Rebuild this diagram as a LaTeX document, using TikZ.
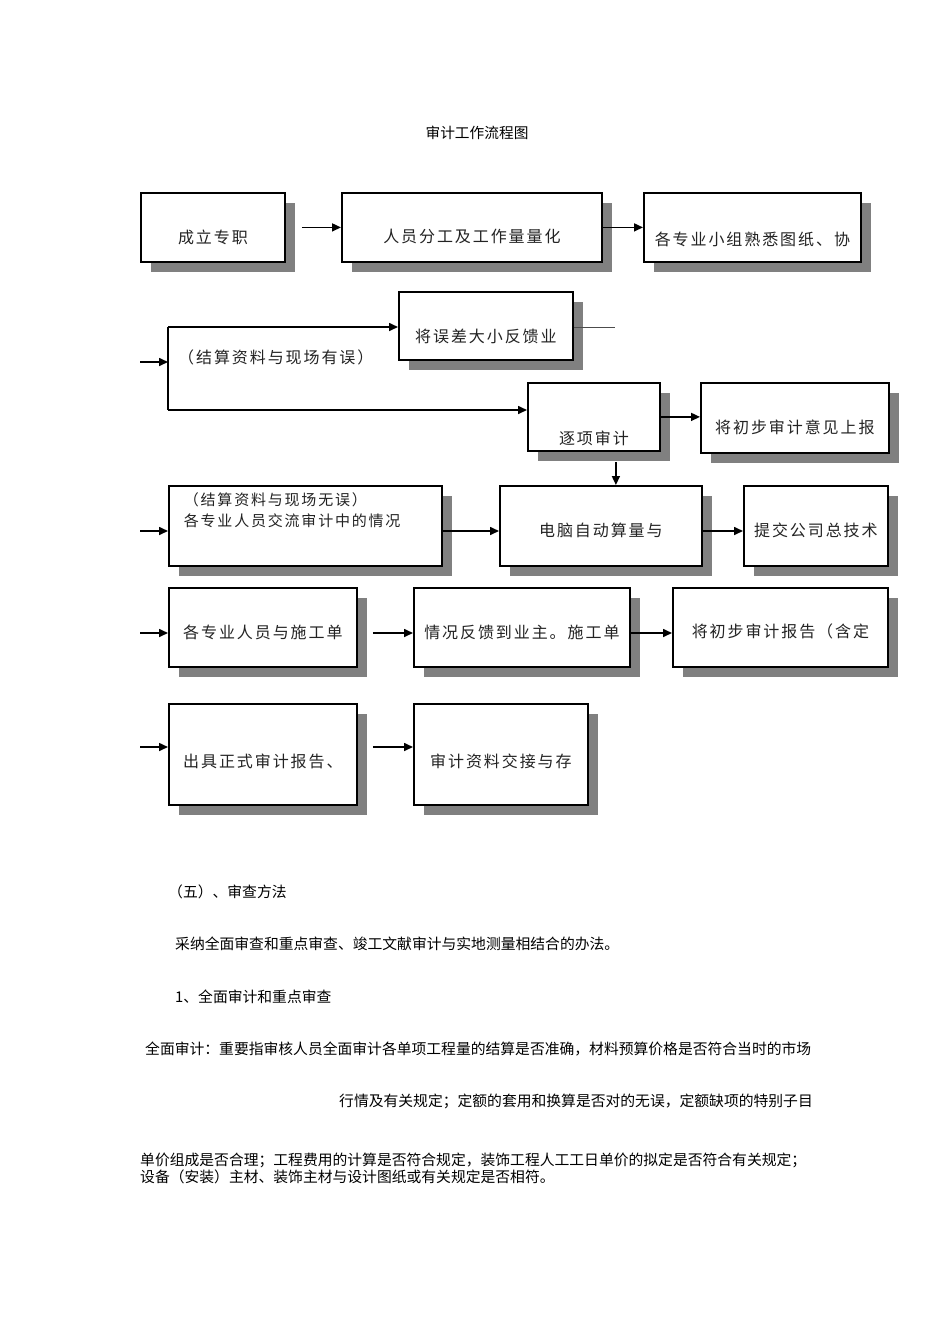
\documentclass[tikz,border=0pt]{standalone}
\usepackage{fontspec}
\setmainfont{Noto Sans CJK SC}
\newfontfamily\boxfont[LetterSpace=12]{Noto Sans CJK SC}
\usetikzlibrary{arrows.meta,positioning,calc,shadows}
\definecolor{shadowgray}{RGB}{128,128,128}
\definecolor{inkgray}{RGB}{35,35,35}

\begin{document}
\begin{tikzpicture}[x=1pt,y=-1pt,
  flowbox/.style={draw=black,line width=1.8pt,fill=white,anchor=north west,inner sep=0pt,text=inkgray,font=\boxfont\fontsize{16}{21}\selectfont,general shadow={fill=shadowgray,shadow xshift=10pt,shadow yshift=-10pt},text depth=0pt},
  flowarrow/.style={-{Triangle[length=9pt,width=8pt]},line width=1.6pt},
  bodytext/.style={inner sep=0pt,font=\fontsize{14.8}{17}\selectfont}]
\fill[white] (0,0) rectangle (950,1344);
\useasboundingbox (0,0) rectangle (950,1344);

\node[bodytext,font=\fontsize{14.7}{17}\selectfont] (title) at (477,133) {审计工作流程图};

\node[flowbox,minimum width=144pt,minimum height=69pt,text height=32pt] (b1) at (140,192) {成立专职};
\node[flowbox,minimum width=260pt,minimum height=69pt,text height=31pt] (b2) at (341,192) {人员分工及工作量量化};
\node[flowbox,minimum width=217pt,minimum height=69pt,text height=36pt] (b3) at (643,192) {各专业小组熟悉图纸、协};
\node[flowbox,minimum width=174pt,minimum height=68pt,text height=34pt] (b4) at (398,291) {将误差大小反馈业};
\node[flowbox,minimum width=132pt,minimum height=68pt,text height=56pt] (b5) at (527,382) {逐项审计};
\node[flowbox,minimum width=188pt,minimum height=70pt,text height=32pt] (b6) at (700,382) {将初步审计意见上报};
\node[flowbox,minimum width=273pt,minimum height=80pt,text width=243pt,align=left,text height=10pt,text depth=50pt,font=\boxfont\fontsize{15}{21}\selectfont] (b7) at (168,485) {（结算资料与现场无误）\\各专业人员交流审计中的情况};
\node[flowbox,minimum width=202pt,minimum height=80pt,text height=22pt] (b8) at (499,485) {电脑自动算量与};
\node[flowbox,minimum width=144pt,minimum height=80pt,text height=22pt] (b9) at (743,485) {提交公司总技术};
\node[flowbox,minimum width=188pt,minimum height=79pt,text height=22pt] (b10) at (168,587) {各专业人员与施工单};
\node[flowbox,minimum width=216pt,minimum height=79pt,text height=22pt] (b11) at (413,587) {情况反馈到业主。施工单};
\node[flowbox,minimum width=215pt,minimum height=79pt,text height=20pt] (b12) at (672,587) {将初步审计报告（含定};
\node[flowbox,minimum width=188pt,minimum height=101pt,text height=26pt] (b13) at (168,703) {出具正式审计报告、};
\node[flowbox,minimum width=174pt,minimum height=101pt,text height=26pt] (b14) at (413,703) {审计资料交接与存};

\node[inner sep=0pt,anchor=west,text=inkgray,font=\boxfont\fontsize{16}{21}\selectfont] (errlabel) at (178,357) {（结算资料与现场有误）};

\coordinate (in2) at (140,362);
\coordinate (forktop) at (168,327);
\coordinate (forkbot) at (168,410);
\coordinate (b4out) at (615,327);
\coordinate (in3) at (140,531);
\coordinate (in4) at (140,633);
\coordinate (in5) at (140,747);

\draw[flowarrow,shorten <=16pt] (b1) -- (b2);
\draw[flowarrow] (b2) -- (b3);
\draw[line width=2.4pt] (forktop) -- (forkbot);
\draw[flowarrow] (in2) -- (in2 -| forktop);
\draw[flowarrow] (forktop) -- (forktop -| b4.west);
\draw[line width=1pt,black!70] (forktop -| b4.east) -- (b4out);
\draw[flowarrow] (forkbot) -- (forkbot -| b5.west);
\draw[flowarrow] (b5.east) -- (b5.east -| b6.west);
\draw[flowarrow,shorten <=10pt] ([xshift=22pt]b5.south) -- ([xshift=22pt]b5.south |- b8.north);
\draw[flowarrow] (in3) -- (in3 -| b7.west);
\draw[flowarrow] (in3 -| b7.east) -- (in3 -| b8.west);
\draw[flowarrow] (in3 -| b8.east) -- (in3 -| b9.west);
\draw[flowarrow] (in4) -- (in4 -| b10.west);
\draw[flowarrow,shorten <=15pt] (in4 -| b10.east) -- (in4 -| b11.west);
\draw[flowarrow] (in4 -| b11.east) -- (in4 -| b12.west);
\draw[flowarrow] (in5) -- (in5 -| b13.west);
\draw[flowarrow,shorten <=15pt] (in5 -| b13.east) -- (in5 -| b14.west);

\node[bodytext,anchor=west] (sec5) at (168,892) {（五）、审查方法};
\node[bodytext,anchor=west] (method) at (175,944) {采纳全面审查和重点审查、竣工文献审计与实地测量相结合的办法。};
\node[bodytext,anchor=west] (item1) at (175,997) {1、全面审计和重点审查};
\node[bodytext,anchor=west] (para1) at (145,1049) {全面审计：重要指审核人员全面审计各单项工程量的结算是否准确，材料预算价格是否符合当时的市场};
\node[bodytext,anchor=east] (para2) at (813,1101) {行情及有关规定；定额的套用和换算是否对的无误，定额缺项的特别子目};
\node[bodytext,anchor=base west,text width=730pt,align=left] (para3) at (140,1165.5) {单价组成是否合理；工程费用的计算是否符合规定，装饰工程人工工日单价的拟定是否符合有关规定；\\设备（安装）主材、装饰主材与设计图纸或有关规定是否相符。};
\end{tikzpicture}
\end{document}
